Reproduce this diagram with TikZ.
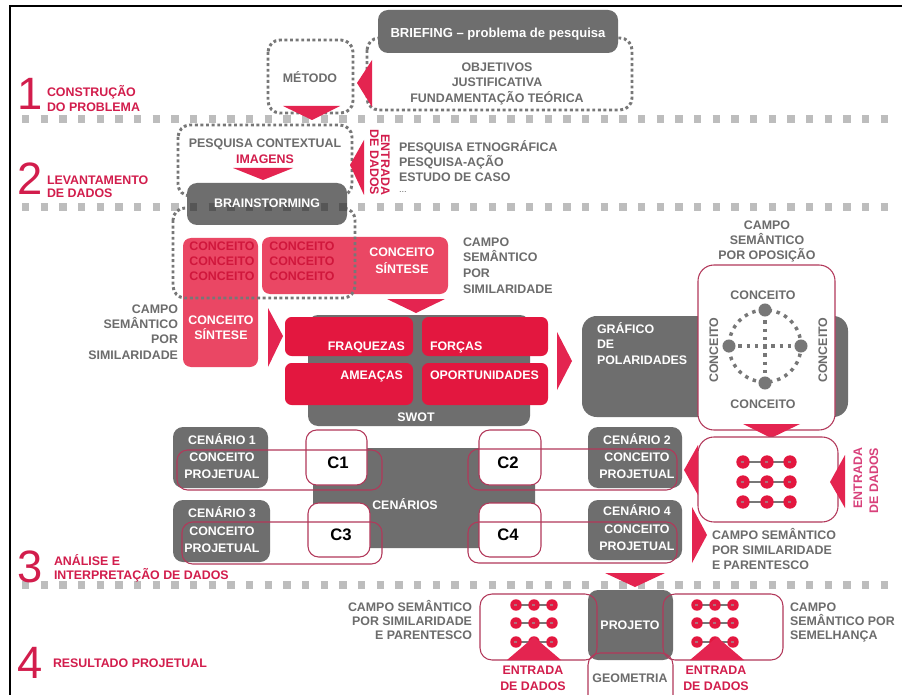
\documentclass[tikz,border=0pt]{standalone}
\usepackage{fontspec}
\setmainfont{Liberation Sans}
\definecolor{boxgrey}{HTML}{6E6E6E}
\definecolor{tgrey}{HTML}{6C6C6C}
\definecolor{lred}{HTML}{D21D4C}
\definecolor{entpink}{HTML}{D8407A}
\definecolor{pinkr}{HTML}{EA4764}
\definecolor{bred}{HTML}{E3173F}
\definecolor{tred}{HTML}{E42450}
\definecolor{dred}{HTML}{D0173C}
\definecolor{ored}{HTML}{B2385A}
\definecolor{dgrey}{HTML}{777777}
\definecolor{markc}{HTML}{B0707E}
\definecolor{sgrey}{HTML}{BDBDBD}
\definecolor{sdark}{HTML}{565656}
\begin{document}
\begin{tikzpicture}[x=0.75pt,y=-0.75pt,
  basetext/.style={inner sep=0pt, outer sep=0pt, font=\fontsize{9.3}{11}\selectfont\bfseries},
  gtext/.style={basetext, text=tgrey},
  wtext/.style={basetext, text=white},
  rtext/.style={basetext, text=lred},
  dtext/.style={basetext, text=dred},
  ctext/.style={inner sep=0pt, font=\fontsize{12.5}{13}\selectfont\bfseries, text=black},
  bigdigit/.style={inner sep=0pt, font=\fontsize{34}{34}\selectfont, text=lred},
  greybox/.style={fill=boxgrey, rounded corners=7.5pt},
  pinkbox/.style={fill=pinkr, rounded corners=6pt},
  redbox/.style={fill=bred, rounded corners=5pt},
  redline/.style={draw=ored, line width=0.8pt, rounded corners=7pt},
  whitebox/.style={redline, fill=white},
  dotline/.style={draw=dgrey, line width=2.2pt, dash pattern=on 2.2pt off 2pt, rounded corners=9pt},
  polardot/.style={draw=dgrey, line width=2.6pt, dash pattern=on 2.6pt off 3.6pt},
  sepline/.style={draw=sgrey, line width=5.5pt, dash pattern=on 5.5pt off 8.5pt},
  arrowtri/.style={fill=tred},
  link/.style={draw=dgrey, line width=1.6pt},
]
\useasboundingbox (0,0) rectangle (902,695);
\fill[white] (0,0) rectangle (902,695);

% stage separators
\foreach \yy in {119,207,585} \draw[sepline] (22,\yy) -- (896,\yy);

% ---------- 1: problem construction ----------
\draw[dotline] (367,38) rectangle (632,110);
\fill[greybox] (378,10) rectangle (618,53);
\draw[dotline] (268,40) rectangle (353,113);
\fill[arrowtri] (372,60) -- (372,107) -- (357,83) -- cycle;
\fill[arrowtri] (283,106) -- (340,106) -- (312,120) -- cycle;

\node[wtext, anchor=base, font=\fontsize{9.8}{11}\selectfont\bfseries] (brief) at (498,38) {BRIEFING – problema de pesquisa};
\node[gtext, anchor=base] (metodo) at (310,83) {MÉTODO};
\node[gtext, anchor=base] (obj) at (497,72) {OBJETIVOS};
\node[gtext, anchor=base] (just) at (497,87) {JUSTIFICATIVA};
\node[gtext, anchor=base] (fund) at (497,103) {FUNDAMENTAÇÃO TEÓRICA};

\node[bigdigit, anchor=base west] (n1) at (17,110) {1};
\node[rtext, anchor=base west] (s1a) at (47,97) {CONSTRUÇÃO};
\node[rtext, anchor=base west] (s1b) at (47,112) {DO PROBLEMA};

% ---------- 2: data gathering ----------
\draw[dotline] (178,125) rectangle (352,196);
\fill[arrowtri] (233,168) -- (293,168) -- (263,180) -- cycle;
\fill[arrowtri] (364,140) -- (364,195) -- (350,165) -- cycle;

\node[gtext, anchor=base] (pctx) at (265,148) {PESQUISA CONTEXTUAL};
\node[rtext, anchor=base] (imgs) at (265,164) {IMAGENS};
\node[rtext, rotate=-90, anchor=base east] (ent1) at (381,195) {ENTRADA};
\node[rtext, rotate=-90, anchor=base east] (ent2) at (370,195) {DE DADOS};
\node[gtext, anchor=base west] (petno) at (399,152) {PESQUISA ETNOGRÁFICA};
\node[gtext, anchor=base west] (pacao) at (399,167) {PESQUISA-AÇÃO};
\node[gtext, anchor=base west] (ecaso) at (399,182) {ESTUDO DE CASO};
\node[gtext, anchor=base west, font=\fontsize{7}{8}\selectfont] (etc) at (399,193) {...};

\node[bigdigit, anchor=base west] (n2) at (17,195) {2};
\node[rtext, anchor=base west] (s2a) at (47,185) {LEVANTAMENTO};
\node[rtext, anchor=base west] (s2b) at (47,198) {DE DADOS};

% ---------- 3: concepts ----------
\fill[pinkbox] (183,238) rectangle (258,367);
\fill[pinkbox] (262,237) rectangle (448,294);
\draw[dotline] (173,208) rectangle (355,298);
\fill[greybox] (187,183) rectangle (347,225);
\begin{scope}
  \clip[rounded corners=7.5pt] (187,183) rectangle (347,225);
  \draw[sepline, draw=sdark] (22,207) -- (896,207);
\end{scope}
\node[wtext, anchor=base] (brain) at (267,208) {BRAINSTORMING};

\foreach \yy/\nm in {250/a,265/b,280/c} {
  \node[dtext, anchor=base] (kl\nm) at (222,\yy) {CONCEITO};
  \node[dtext, anchor=base] (km\nm) at (302,\yy) {CONCEITO};
}
\node[wtext, anchor=base] (ksa) at (402,257) {CONCEITO};
\node[wtext, anchor=base] (ksb) at (402,273) {SÍNTESE};
\node[wtext, anchor=base] (kta) at (221,324) {CONCEITO};
\node[wtext, anchor=base] (ktb) at (221,339) {SÍNTESE};

\node[gtext, anchor=base west] (cra) at (463,247) {CAMPO};
\node[gtext, anchor=base west] (crb) at (463,262) {SEMÂNTICO};
\node[gtext, anchor=base west] (crc) at (463,277) {POR};
\node[gtext, anchor=base west] (crd) at (463,293) {SIMILARIDADE};
\node[gtext, anchor=base east] (cla) at (178,313) {CAMPO};
\node[gtext, anchor=base east] (clb) at (178,328) {SEMÂNTICO};
\node[gtext, anchor=base east] (clc) at (178,343) {POR};
\node[gtext, anchor=base east] (cld) at (178,359) {SIMILARIDADE};

\fill[arrowtri] (387,299) -- (445,299) -- (416,313) -- cycle;
\fill[arrowtri] (268,308) -- (268,367) -- (283,336) -- cycle;

% SWOT
\fill[greybox] (308,315) rectangle (530,426);
\fill[redbox] (285,317) rectangle (413,356);
\fill[redbox] (422,317) rectangle (548,356);
\fill[redbox] (285,363) rectangle (413,405);
\fill[redbox] (422,363) rectangle (548,405);
\node[wtext, anchor=base east] (fraq) at (405,350) {FRAQUEZAS};
\node[wtext, anchor=base west] (forc) at (430,350) {FORÇAS};
\node[wtext, anchor=base east] (amea) at (403,379) {AMEAÇAS};
\node[wtext, anchor=base west] (opor) at (430,379) {OPORTUNIDADES};
\node[wtext, anchor=base] (swot) at (416,421) {SWOT};
\fill[arrowtri] (557,332) -- (557,390) -- (572,361) -- cycle;

% polarity chart
\fill[greybox, rounded corners=11pt] (582,316) rectangle (848,417);
\node[wtext, anchor=base west] (gra) at (597,333) {GRÁFICO};
\node[wtext, anchor=base west] (grb) at (597,348) {DE};
\node[wtext, anchor=base west] (grc) at (597,364) {POLARIDADES};
\draw[whitebox, rounded corners=12pt] (698,265) rectangle (835,430);
\node[gtext, anchor=base] (opa) at (767,229) {CAMPO};
\node[gtext, anchor=base] (opb) at (767,244) {SEMÂNTICO};
\node[gtext, anchor=base] (opc) at (767,259) {POR OPOSIÇÃO};
\draw[polardot] (765,346) circle[radius=27pt];
\draw[polardot] (765,312) -- (765,381);
\draw[polardot] (730,346) -- (800,346);
\foreach \px/\py in {765/310,765/383,729/346,801/346}
  \fill[dgrey] (\px,\py) circle[radius=4.9pt];
\node[gtext, anchor=base] (pn) at (763,299) {CONCEITO};
\node[gtext, anchor=base] (ps) at (763,408) {CONCEITO};
\node[gtext, rotate=90, anchor=base] (pw) at (718,350) {CONCEITO};
\node[gtext, rotate=90, anchor=base] (pe) at (827,350) {CONCEITO};
\fill[arrowtri] (743,424) -- (800,424) -- (771,438) -- cycle;

% kinship field
\draw[whitebox, rounded corners=12pt] (698,437) rectangle (838,522);
\foreach \yy in {462,482,502} {
  \draw[link] (748,\yy) -- (762,\yy);
  \draw[link] (772,\yy) -- (785,\yy);
  \foreach \xx in {743,767,790} {
    \fill[bred] (\xx,\yy) circle[radius=5pt];
    \fill[markc] (\xx-2.5,\yy-1) rectangle (\xx+0.5,\yy+1);
  }
}
\fill[arrowtri] (698,445) -- (698,495) -- (684,470) -- cycle;
\fill[arrowtri] (845,455) -- (845,508) -- (830,482) -- cycle;
\fill[arrowtri] (692,507) -- (692,563) -- (707,535) -- cycle;
\node[basetext, text=entpink, rotate=90, anchor=base east] (ent3) at (862,448) {ENTRADA};
\node[basetext, text=entpink, rotate=90, anchor=base east] (ent4) at (878,448) {DE DADOS};
\node[gtext, anchor=base west] (cpa) at (712,539) {CAMPO SEMÂNTICO};
\node[gtext, anchor=base west] (cpb) at (712,554) {POR SIMILARIDADE};
\node[gtext, anchor=base west] (cpc) at (712,569) {E PARENTESCO};

% scenarios
\fill[boxgrey, rounded corners=3pt] (313,448) rectangle (535,548);
\node[wtext, anchor=base] (cen) at (405,509) {CENÁRIOS};
\fill[greybox] (173,427) rectangle (268,488);
\fill[greybox] (173,500) rectangle (270,562);
\fill[greybox] (588,427) rectangle (682,488);
\fill[greybox] (588,500) rectangle (682,560);
\draw[whitebox, rounded corners=8pt] (306,430) rectangle (367,485);
\draw[whitebox, rounded corners=8pt] (479,430) rectangle (541,485);
\draw[whitebox, rounded corners=8pt] (308,503) rectangle (370,557);
\draw[whitebox, rounded corners=8pt] (479,503) rectangle (541,557);
\node[wtext, anchor=base] (sca1) at (222,444) {CENÁRIO 1};
\node[wtext, anchor=base] (sca2) at (222,461) {CONCEITO};
\node[wtext, anchor=base] (sca3) at (222,478) {PROJETUAL};
\node[wtext, anchor=base] (scb1) at (637,444) {CENÁRIO 2};
\node[wtext, anchor=base] (scb2) at (637,461) {CONCEITO};
\node[wtext, anchor=base] (scb3) at (637,478) {PROJETUAL};
\node[wtext, anchor=base] (scc1) at (222,517) {CENÁRIO 3};
\node[wtext, anchor=base] (scc2) at (222,535) {CONCEITO};
\node[wtext, anchor=base] (scc3) at (222,552) {PROJETUAL};
\node[wtext, anchor=base] (scd1) at (637,515) {CENÁRIO 4};
\node[wtext, anchor=base] (scd2) at (637,533) {CONCEITO};
\node[wtext, anchor=base] (scd3) at (637,550) {PROJETUAL};
\node[ctext, anchor=base] (c1) at (338,468) {C1};
\node[ctext, anchor=base] (c2) at (508,468) {C2};
\node[ctext, anchor=base] (c3) at (341,540) {C3};
\node[ctext, anchor=base] (c4) at (508,540) {C4};
\draw[redline, rounded corners=8pt] (177,450) rectangle (382,490);
\draw[redline, rounded corners=8pt] (182,522) rectangle (382,564);
\draw[redline, rounded corners=8pt] (468,449) rectangle (677,490);
\draw[redline, rounded corners=8pt] (468,522) rectangle (677,563);
\fill[arrowtri] (605,573) -- (665,573) -- (635,587) -- cycle;

\node[bigdigit, anchor=base west] (n3) at (17,582) {3};
\node[rtext, anchor=base west] (s3a) at (54,565) {ANÁLISE E};
\node[rtext, anchor=base west] (s3b) at (54,579) {INTERPRETAÇÃO DE DADOS};

% ---------- 4: design result ----------
\fill[greybox] (588,590) rectangle (673,660);
\draw[redline, rounded corners=9pt] (480,594) rectangle (597,660);
\draw[redline, rounded corners=9pt] (663,594) rectangle (783,660);
\foreach \yy in {605,623,642} {
  \foreach \xa in {516,697} {
    \draw[link] (\xa+5,\yy) -- (\xa+13,\yy);
    \draw[link] (\xa+23,\yy) -- (\xa+31,\yy);
  }
  \foreach \xx in {516,534,552,697,715,733} {
    \fill[bred] (\xx,\yy) circle[radius=4.3pt];
    \fill[markc] (\xx-2.5,\yy-1) rectangle (\xx+0.5,\yy+1);
  }
}
\fill[arrowtri] (507,660) -- (561,660) -- (534,637) -- cycle;
\fill[arrowtri] (690,660) -- (744,660) -- (717,637) -- cycle;
\draw[redline, rounded corners=9pt] (588,653) rectangle (673,712);
\node[wtext, anchor=base] (proj) at (630,629) {PROJETO};
\node[gtext, anchor=base] (geom) at (630,682) {GEOMETRIA};
\node[rtext, anchor=base] (ent5) at (533,674) {ENTRADA};
\node[rtext, anchor=base] (ent6) at (533,690) {DE DADOS};
\node[rtext, anchor=base] (ent7) at (716,674) {ENTRADA};
\node[rtext, anchor=base] (ent8) at (716,690) {DE DADOS};
\node[gtext, anchor=base east] (fla) at (472,611) {CAMPO SEMÂNTICO};
\node[gtext, anchor=base east] (flb) at (472,625) {POR SIMILARIDADE};
\node[gtext, anchor=base east] (flc) at (472,639) {E PARENTESCO};
\node[gtext, anchor=base west] (fra) at (790,611) {CAMPO};
\node[gtext, anchor=base west] (frb) at (790,625) {SEMÂNTICO POR};
\node[gtext, anchor=base west] (frc) at (790,639) {SEMELHANÇA};

\node[bigdigit, anchor=base west] (n4) at (17,678) {4};
\node[rtext, anchor=base west] (s4) at (53,667) {RESULTADO PROJETUAL};

% frame
\draw[line width=1.5pt] (10,700) -- (10,6) -- (905,6);
\end{tikzpicture}
\end{document}
